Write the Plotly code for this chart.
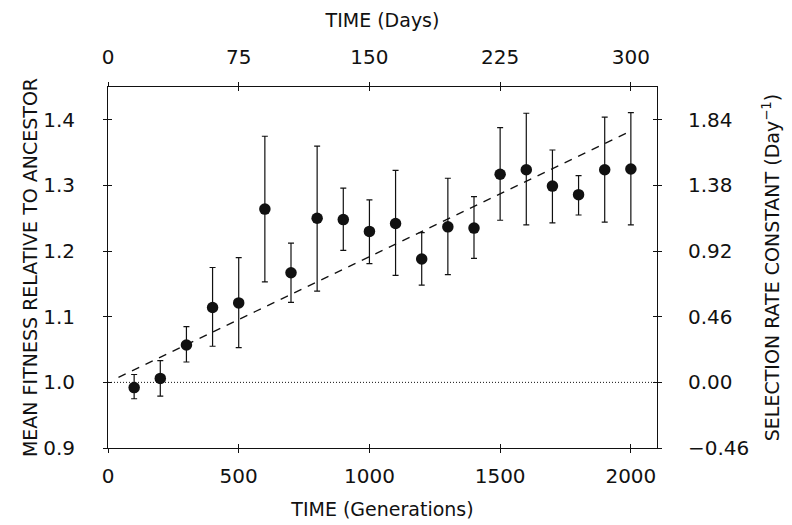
import plotly.graph_objects as go

# generations and mean fitness (relative to ancestor) with error bar ends
gens = [100, 200, 300, 400, 500, 600, 700, 800, 900, 1000,
        1100, 1200, 1300, 1400, 1500, 1600, 1700, 1800, 1900, 2000]
fitness = [0.992, 1.006, 1.057, 1.114, 1.121, 1.264, 1.167, 1.250, 1.248, 1.230,
           1.242, 1.188, 1.237, 1.235, 1.317, 1.324, 1.299, 1.286, 1.324, 1.325]
upper = [1.012, 1.033, 1.085, 1.175, 1.190, 1.375, 1.212, 1.360, 1.296, 1.278,
         1.323, 1.228, 1.311, 1.283, 1.388, 1.410, 1.354, 1.315, 1.404, 1.411]
lower = [0.975, 0.979, 1.031, 1.055, 1.053, 1.153, 1.122, 1.139, 1.201, 1.181,
         1.163, 1.148, 1.164, 1.189, 1.247, 1.240, 1.243, 1.255, 1.244, 1.240]

# fitted line and reference line
fit_x = [40, 2000]
fit_y = [1.0077, 1.383]
ref_x = [0, 2100]
ref_y = [1.0, 1.0]

gen_ticks = [0, 500, 1000, 1500, 2000]
day_ticks = [0, 75, 150, 225, 300]
fit_ticks = [0.9, 1.0, 1.1, 1.2, 1.3, 1.4]
fit_labels = ['0.9', '1.0', '1.1', '1.2', '1.3', '1.4']
rate_ticks = [-0.46, 0.0, 0.46, 0.92, 1.38, 1.84]
rate_labels = ['\u22120.46', '0.00', '0.46', '0.92', '1.38', '1.84']

FONT = 'DejaVu Sans'
INK = '#111111'

err_plus = [u - f for u, f in zip(upper, fitness)]
err_minus = [f - l for f, l in zip(fitness, lower)]

fig = go.Figure()

fig.add_trace(go.Scatter(x=ref_x, y=ref_y, mode='lines',
                         line=dict(color=INK, width=1, dash='1px,2px'),
                         showlegend=False, hoverinfo='skip'))
fig.add_trace(go.Scatter(x=fit_x, y=fit_y, mode='lines',
                         line=dict(color=INK, width=1.3, dash='8px,7px'),
                         showlegend=False, hoverinfo='skip'))
fig.add_trace(go.Scatter(x=gens, y=fitness, mode='markers',
                         marker=dict(color=INK, size=11.5),
                         error_y=dict(type='data', symmetric=False,
                                      array=err_plus, arrayminus=err_minus,
                                      color=INK, thickness=1.2, width=3),
                         showlegend=False))

# empty traces so the extra axes get drawn
fig.add_trace(go.Scatter(x=[None], y=[None], xaxis='x2', yaxis='y2', showlegend=False))
fig.add_trace(go.Scatter(x=[None], y=[None], xaxis='x3', yaxis='y3', showlegend=False))
fig.add_trace(go.Scatter(x=[None], y=[None], xaxis='x4', yaxis='y4', showlegend=False))

tickfont = dict(family=FONT, size=20, color=INK)
titlefont = dict(family=FONT, size=19, color=INK)
common = dict(showgrid=False, zeroline=False, linecolor=INK, linewidth=1,
              tickcolor=INK, ticklen=4, tickwidth=1, tickfont=tickfont)

# page body adds 8px, so margins are shifted to compensate
fig.update_layout(
    width=792, height=525,
    margin=dict(l=100, r=143, t=72, b=85),
    plot_bgcolor='white', paper_bgcolor='white',
    xaxis=dict(range=[0, 2100], tickvals=gen_ticks, ticks='outside', showline=True,
               side='bottom', anchor='y', ticklabelstandoff=6,
               title=dict(text='TIME (Generations)', font=titlefont, standoff=15),
               **common),
    xaxis2=dict(range=[0, 315], tickvals=day_ticks, ticks='outside', showline=True,
                side='top', overlaying='x', anchor='y', ticklabelstandoff=10,
                title=dict(text='TIME (Days)', font=titlefont, standoff=12),
                **common),
    yaxis=dict(range=[0.9, 1.45], tickvals=fit_ticks, ticktext=fit_labels,
               ticks='outside', showline=True, side='left', anchor='x',
               ticklabelstandoff=24,
               title=dict(text='MEAN FITNESS RELATIVE TO ANCESTOR', font=titlefont,
                          standoff=0),
               **common),
    yaxis2=dict(range=[-0.46, 2.07], tickvals=rate_ticks, ticktext=rate_labels,
                ticks='outside', showline=True, side='right', overlaying='y',
                anchor='x', ticklabelstandoff=22,
                title=dict(text='SELECTION RATE CONSTANT (Day<sup>\u22121</sup>)',
                           font=titlefont, standoff=17),
                **common),
    # inside halves of the crossing ticks
    xaxis3=dict(range=[0, 2100], tickvals=gen_ticks, ticks='inside', side='bottom',
                overlaying='x', anchor='y', showticklabels=False, showline=False,
                **common),
    xaxis4=dict(range=[0, 315], tickvals=day_ticks, ticks='inside', side='top',
                overlaying='x', anchor='y', showticklabels=False, showline=False,
                **common),
    yaxis3=dict(range=[0.9, 1.45], tickvals=fit_ticks, ticks='inside', side='left',
                overlaying='y', anchor='x', showticklabels=False, showline=False,
                **common),
    yaxis4=dict(range=[-0.46, 2.07], tickvals=rate_ticks, ticks='inside', side='right',
                overlaying='y', anchor='x', showticklabels=False, showline=False,
                **common),
)

fig.write_html("out.html")
